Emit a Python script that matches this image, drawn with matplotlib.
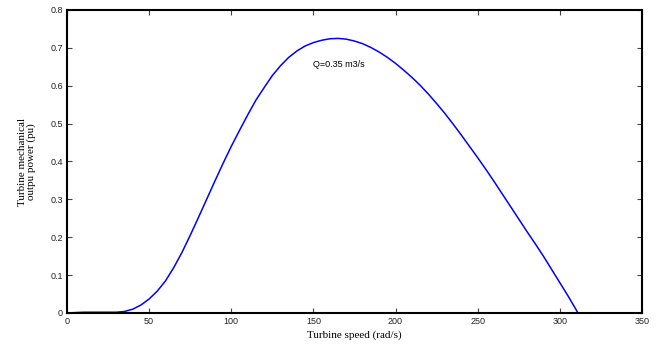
import matplotlib
matplotlib.use("Agg")
import matplotlib.pyplot as plt

# turbine speed (rad/s) and mechanical output power (pu)
speed = [0, 10, 20, 30, 35, 40, 45, 50, 55, 60, 65, 70, 75, 80, 85, 90, 95,
         100, 105, 110, 115, 120, 125, 130, 135, 140, 145, 150, 155, 160, 165,
         170, 175, 180, 185, 190, 195, 200, 205, 210, 215, 220, 225, 230, 235,
         240, 245, 250, 255, 260, 265, 270, 275, 280, 285, 290, 295, 300, 305,
         310, 311]
power = [0.0, 0.002, 0.002, 0.002, 0.004, 0.01, 0.021, 0.037, 0.058, 0.085,
         0.12, 0.16, 0.205, 0.252, 0.3, 0.348, 0.395, 0.44, 0.482, 0.523,
         0.562, 0.595, 0.627, 0.653, 0.675, 0.692, 0.705, 0.714, 0.72, 0.724,
         0.725, 0.723, 0.718, 0.711, 0.701, 0.689, 0.675, 0.659, 0.641, 0.622,
         0.601, 0.578, 0.553, 0.527, 0.499, 0.47, 0.44, 0.41, 0.379, 0.347,
         0.314, 0.281, 0.248, 0.215, 0.183, 0.15, 0.115, 0.08, 0.045, 0.008,
         0.0]

x_ticks = [0, 50, 100, 150, 200, 250, 300, 350]
y_ticks = [0, 0.1, 0.2, 0.3, 0.4, 0.5, 0.6, 0.7, 0.8]
y_tick_labels = ["0", "0.1", "0.2", "0.3", "0.4", "0.5", "0.6", "0.7", "0.8"]

fig = plt.figure(figsize=(6.6, 3.48), dpi=100)
ax = fig.add_axes([0.1015, 0.1006, 0.8712, 0.8707])

ax.plot(speed, power, color="#0000ff", linewidth=1.1)
ax.text(149.5, 0.657, "Q=0.35 m3/s", fontsize=6.5, family="Liberation Sans",
        va="center", ha="left")

ax.set_xlim(0, 350)
ax.set_ylim(0, 0.8)
ax.set_xticks(x_ticks)
ax.set_yticks(y_ticks)
ax.set_yticklabels(y_tick_labels)
ax.tick_params(direction="in", top=True, right=True, length=3.5, width=0.8,
               color="#444444", labelsize=6.5, pad=3, labelcolor="#222222")
for lbl in ax.get_xticklabels() + ax.get_yticklabels():
    lbl.set_family("Liberation Sans")
for sp in ax.spines.values():
    sp.set_linewidth(1.5)

ax.set_xlabel("Turbine speed (rad/s)", family="Liberation Serif", fontsize=8,
              labelpad=3)
ax.set_ylabel("Turbine mechanical\noutpu power (pu)", family="Liberation Serif",
              fontsize=8, labelpad=10, linespacing=1.0)

fig.savefig("out.png", dpi=100)
